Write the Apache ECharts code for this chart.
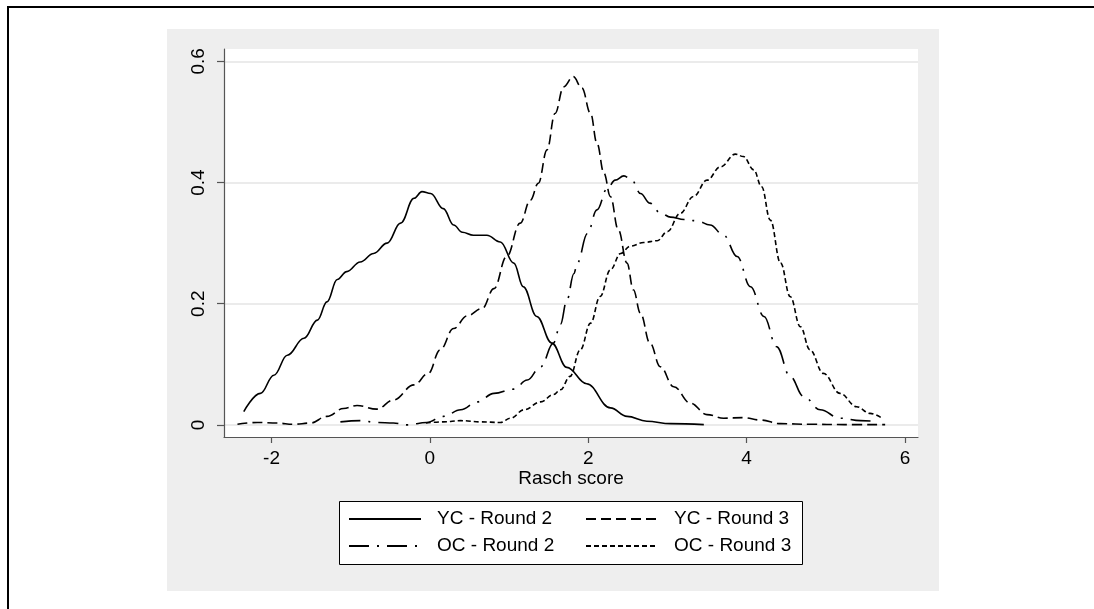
<!DOCTYPE html>
<html>
<head>
<meta charset="utf-8">
<script src="https://cdn.jsdelivr.net/npm/echarts@6/dist/echarts.min.js"></script>
<style>
  html, body { margin: 0; padding: 0; background: #fff; }
  #main { width: 1094px; height: 609px; }
</style>
</head>
<body>
<div id="main"></div>
<script>
// kernel density curves as [Rasch score, density]
var ycRound2 = [
  [-2.35, 0.022], [-2.14, 0.052], [-1.97, 0.082], [-1.80, 0.115], [-1.59, 0.143],
  [-1.42, 0.173], [-1.30, 0.203], [-1.17, 0.240], [-1.05, 0.253], [-0.88, 0.269],
  [-0.71, 0.283], [-0.54, 0.300], [-0.37, 0.333], [-0.20, 0.374], [-0.10, 0.385],
  [0.01, 0.382], [0.17, 0.357], [0.30, 0.330], [0.41, 0.318], [0.55, 0.313],
  [0.72, 0.313], [0.89, 0.302], [1.06, 0.267], [1.18, 0.228], [1.35, 0.179],
  [1.54, 0.135], [1.73, 0.095], [1.98, 0.068], [2.28, 0.028], [2.49, 0.014],
  [2.74, 0.006], [3.04, 0.002], [3.46, 0.0005]
];
var ycRound3 = [
  [-2.43, 0.001], [-2.18, 0.004], [-1.93, 0.003], [-1.72, 0.001], [-1.51, 0.003],
  [-1.30, 0.014], [-1.09, 0.027], [-0.92, 0.032], [-0.67, 0.026], [-0.46, 0.041],
  [-0.20, 0.066], [-0.02, 0.085], [0.13, 0.124], [0.30, 0.159], [0.47, 0.180],
  [0.66, 0.192], [0.81, 0.225], [0.97, 0.278], [1.14, 0.333], [1.27, 0.371],
  [1.37, 0.399], [1.48, 0.454], [1.58, 0.514], [1.69, 0.558], [1.81, 0.575],
  [1.92, 0.556], [2.03, 0.514], [2.11, 0.465], [2.20, 0.415], [2.28, 0.377],
  [2.38, 0.322], [2.49, 0.267], [2.57, 0.223], [2.66, 0.184], [2.78, 0.135],
  [2.91, 0.096], [3.08, 0.063], [3.29, 0.036], [3.50, 0.017], [3.71, 0.011],
  [3.96, 0.012], [4.17, 0.008], [4.43, 0.002], [4.80, 0.001], [5.23, 0.0005],
  [5.75, 0.0005]
];
var ocRound2 = [
  [-1.13, 0.005], [-0.88, 0.007], [-0.67, 0.004], [-0.46, 0.003], [-0.29, 0.000],
  [-0.04, 0.004], [0.17, 0.014], [0.39, 0.025], [0.60, 0.038], [0.81, 0.052],
  [1.06, 0.059], [1.23, 0.074], [1.40, 0.096], [1.56, 0.135], [1.65, 0.166],
  [1.73, 0.206], [1.82, 0.250], [1.86, 0.267], [1.99, 0.316], [2.11, 0.355],
  [2.24, 0.390], [2.34, 0.404], [2.45, 0.411], [2.55, 0.404], [2.66, 0.382],
  [2.78, 0.366], [2.91, 0.350], [3.04, 0.343], [3.21, 0.339], [3.37, 0.337],
  [3.54, 0.330], [3.71, 0.313], [3.88, 0.278], [4.05, 0.228], [4.22, 0.179],
  [4.38, 0.129], [4.55, 0.080], [4.72, 0.047], [4.93, 0.025], [5.18, 0.011],
  [5.44, 0.007], [5.63, 0.006]
];
var ocRound3 = [
  [-0.05, 0.003], [0.17, 0.005], [0.39, 0.007], [0.64, 0.005], [0.89, 0.004],
  [1.02, 0.011], [1.19, 0.025], [1.40, 0.038], [1.56, 0.050], [1.65, 0.058],
  [1.77, 0.080], [1.90, 0.124], [2.03, 0.168], [2.15, 0.212], [2.28, 0.256],
  [2.41, 0.283], [2.53, 0.295], [2.70, 0.301], [2.87, 0.304], [3.00, 0.319],
  [3.16, 0.349], [3.33, 0.377], [3.50, 0.404], [3.67, 0.426], [3.86, 0.447],
  [3.96, 0.443], [4.09, 0.421], [4.19, 0.393], [4.30, 0.338], [4.43, 0.267],
  [4.55, 0.212], [4.68, 0.162], [4.80, 0.124], [4.97, 0.085], [5.18, 0.052],
  [5.39, 0.030], [5.56, 0.019], [5.71, 0.011]
];

var xTicks = [-2, 0, 2, 4, 6];
var yTicks = [0, 0.2, 0.4, 0.6];
var seriesNames = ['YC - Round 2', 'YC - Round 3', 'OC - Round 2', 'OC - Round 3'];

var font = '"Liberation Sans", Arial, Helvetica, sans-serif';

function curve(name, data, dash) {
  return {
    name: name,
    type: 'line',
    data: data,
    symbol: 'none',
    smooth: 0.4,
    smoothMonotone: 'x',
    lineStyle: { color: '#000', width: 1.6, type: dash },
    itemStyle: { color: '#000' },
    z: 3
  };
}

var legendCommon = {
  left: 348,
  padding: 0,
  itemWidth: 72,
  itemHeight: 20,
  itemGap: 28,
  selectedMode: false,
  itemStyle: { color: 'rgba(0,0,0,0)', borderWidth: 0, opacity: 0 },
  textStyle: {
    fontFamily: font, fontSize: 19, color: '#000',
    width: 120, lineHeight: 20, padding: [0, 0, 0, 11]
  }
};

var myChart = echarts.init(document.getElementById('main'));
var option = {
  backgroundColor: '#fff',
  animation: false,
  graphic: [
    // outer frame (top and left only)
    { type: 'rect', z: -10, shape: { x: 7, y: 6, width: 1087, height: 2 }, style: { fill: '#000' } },
    { type: 'rect', z: -10, shape: { x: 7, y: 6, width: 2, height: 603 }, style: { fill: '#000' } },
    // grey graph region
    { type: 'rect', z: -10, shape: { x: 167, y: 29, width: 772, height: 562 }, style: { fill: '#eeeeee' } },
    // legend box
    { type: 'rect', z: -5, shape: { x: 339.5, y: 501.5, width: 463, height: 63 },
      style: { fill: '#fff', stroke: '#000', lineWidth: 1 } }
  ],
  grid: {
    left: 224, top: 49, right: 176, bottom: 172,
    show: true, backgroundColor: '#fff', borderWidth: 0
  },
  legend: [
    Object.assign({ top: 509, data: [seriesNames[0], seriesNames[1]] }, legendCommon),
    Object.assign({ top: 536, data: [seriesNames[2], seriesNames[3]] }, legendCommon)
  ],
  xAxis: {
    type: 'value',
    min: -2.6, max: 6.165,
    name: 'Rasch score',
    nameLocation: 'middle',
    nameGap: 32,
    nameMoveOverlap: false,
    nameTextStyle: { fontFamily: font, fontSize: 19, color: '#000' },
    axisLine: { show: true, onZero: false, lineStyle: { color: '#555', width: 1.2 } },
    axisTick: { show: true, length: 6, customValues: xTicks, lineStyle: { color: '#555', width: 1.2 } },
    axisLabel: { customValues: xTicks, margin: 12, fontFamily: font, fontSize: 19, color: '#000' },
    splitLine: { show: false }
  },
  yAxis: {
    type: 'value',
    min: -0.02, max: 0.6205,
    axisLine: { show: true, onZero: false, lineStyle: { color: '#555', width: 1.2 } },
    axisTick: { show: true, length: 7, customValues: yTicks, lineStyle: { color: '#555', width: 1.2 } },
    axisLabel: {
      customValues: yTicks, rotate: 90, margin: 16,
      fontFamily: font, fontSize: 19, color: '#000',
      formatter: function (v) { return v === 0 ? '0' : String(v); }
    },
    splitLine: { show: true, lineStyle: { color: '#e4e4e4', width: 1.5 } }
  },
  series: [
    curve(seriesNames[0], ycRound2, 'solid'),
    curve(seriesNames[1], ycRound3, [10, 5]),
    curve(seriesNames[2], ocRound2, [20, 8, 2, 8]),
    curve(seriesNames[3], ocRound3, [5, 3])
  ]
};
myChart.setOption(option);
</script>
</body>
</html>
